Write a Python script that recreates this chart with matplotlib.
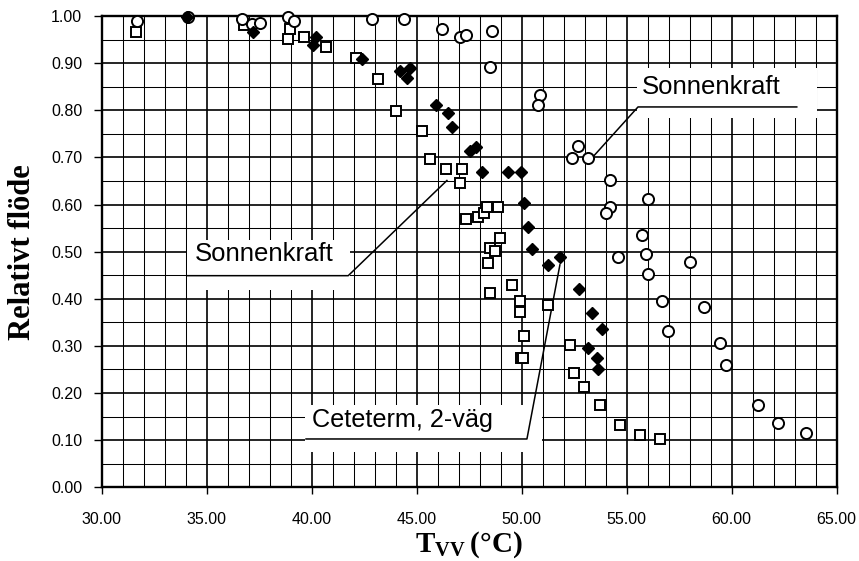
import matplotlib
matplotlib.use('Agg')
import matplotlib.pyplot as plt
from matplotlib.ticker import MultipleLocator, FormatStrFormatter
from matplotlib.patches import Rectangle

# ---- data ----
sq_x = [31.63, 36.78, 38.98, 38.86, 39.62, 40.68, 42.11, 43.17, 44.01, 45.25, 45.63,
        46.40, 47.17, 47.06, 47.35, 47.93, 48.22, 48.36, 48.89, 48.97, 48.49, 48.73,
        48.38, 49.55, 48.49, 49.92, 49.92, 51.27, 50.11, 49.98, 50.08, 52.30, 52.49,
        52.97, 53.73, 54.68, 55.63, 56.58]
sq_y = [0.965, 0.981, 0.972, 0.951, 0.956, 0.935, 0.910, 0.866, 0.798, 0.756, 0.697,
        0.675, 0.675, 0.646, 0.569, 0.573, 0.581, 0.595, 0.595, 0.528, 0.507, 0.502,
        0.475, 0.429, 0.413, 0.396, 0.371, 0.387, 0.320, 0.274, 0.274, 0.302, 0.243,
        0.213, 0.175, 0.132, 0.111, 0.102]

dia_x = [34.05, 37.22, 40.20, 40.08, 42.41, 44.20, 44.68, 44.55, 45.92, 46.51, 46.70,
         47.54, 47.82, 48.12, 49.35, 49.95, 50.11, 50.31, 50.50, 51.24, 51.82, 52.74,
         53.36, 53.84, 53.17, 53.57, 53.65]
dia_y = [0.998, 0.965, 0.956, 0.938, 0.908, 0.884, 0.889, 0.868, 0.811, 0.794, 0.765,
         0.714, 0.721, 0.670, 0.670, 0.670, 0.604, 0.552, 0.506, 0.472, 0.489, 0.420,
         0.370, 0.335, 0.295, 0.274, 0.250]

circ_x = [31.67, 34.12, 36.70, 37.14, 37.54, 38.89, 39.16, 42.86, 44.40, 46.22, 47.06,
          47.35, 48.57, 48.50, 50.87, 50.79, 52.70, 52.38, 53.17, 54.20, 54.20, 54.01,
          56.03, 55.74, 55.92, 54.59, 58.01, 56.03, 56.67, 58.68, 56.95, 59.44, 59.73,
          61.27, 62.19, 63.54]
circ_y = [0.990, 0.998, 0.994, 0.983, 0.986, 0.998, 0.990, 0.994, 0.994, 0.972, 0.955,
          0.960, 0.968, 0.891, 0.832, 0.811, 0.724, 0.699, 0.699, 0.651, 0.595, 0.583,
          0.612, 0.535, 0.496, 0.488, 0.477, 0.452, 0.395, 0.382, 0.332, 0.306, 0.259,
          0.175, 0.137, 0.116]

label_texts = ['Sonnenkraft', 'Sonnenkraft', 'Ceteterm, 2-väg']
x_title = r'$\mathbf{T}_{\mathbf{VV}}\,\mathbf{(°C)}$'
y_title = 'Relativt flöde'

# ---- styling ----
plt.rcParams['font.family'] = ['Liberation Sans', 'DejaVu Sans']
plt.rcParams['mathtext.fontset'] = 'custom'
plt.rcParams['mathtext.rm'] = 'Liberation Serif'
plt.rcParams['mathtext.bf'] = 'Liberation Serif:bold'

fig = plt.figure(figsize=(8.59, 5.61), dpi=100)
ax = fig.add_axes([0.1184, 0.1314, 0.8556, 0.8401])

ax.set_xlim(30, 65)
ax.set_ylim(0, 1.0)
ax.xaxis.set_major_locator(MultipleLocator(5))
ax.xaxis.set_minor_locator(MultipleLocator(1))
ax.yaxis.set_major_locator(MultipleLocator(0.1))
ax.yaxis.set_minor_locator(MultipleLocator(0.05))
ax.xaxis.set_major_formatter(FormatStrFormatter('%.2f'))
ax.yaxis.set_major_formatter(FormatStrFormatter('%.2f'))

ax.set_axisbelow(True)
ax.grid(which='major', color='black', linewidth=1.2)
ax.grid(which='minor', color='black', linewidth=0.75)
ax.tick_params(which='minor', length=0)
ax.tick_params(axis='y', which='major', length=6, width=1, pad=8, labelsize=11.5)
ax.tick_params(axis='x', which='major', length=5, width=1, pad=13, labelsize=11.5)
for s in ax.spines.values():
    s.set_linewidth(1.7)

# white label boxes covering the grid
boxes = [(55.49, 0.784, 64.06 - 55.49, 0.890 - 0.784),
         (34.05, 0.418, 41.82 - 34.05, 0.525 - 0.418),
         (39.69, 0.075, 50.97 - 39.69, 0.175 - 0.075)]
for (bx, by, bw, bh) in boxes:
    ax.add_patch(Rectangle((bx, by), bw, bh, facecolor='white', edgecolor='none', zorder=1))

# underline + leader lines
ax.plot([63.10, 55.54, 53.33], [0.807, 0.807, 0.698], color='black', lw=1.1, zorder=2)
ax.plot([34.08, 41.74, 46.44], [0.449, 0.449, 0.651], color='black', lw=1.1, zorder=2)
ax.plot([39.73, 50.25, 51.82], [0.1025, 0.1025, 0.472], color='black', lw=1.1, zorder=2)

ax.text(55.71, 0.850, label_texts[0], fontsize=18.5, va='center', ha='left', zorder=2)
ax.text(34.44, 0.495, label_texts[1], fontsize=18.5, va='center', ha='left', zorder=2)
ax.text(40.01, 0.142, label_texts[2], fontsize=18.2, va='center', ha='left', zorder=2)

# markers
ax.plot(sq_x, sq_y, linestyle='none', marker='s', ms=7.4, mfc='white', mec='black',
        mew=1.4, zorder=3, clip_on=False)
ax.plot(circ_x, circ_y, linestyle='none', marker='o', ms=8.0, mfc='white', mec='black',
        mew=1.4, zorder=4, clip_on=False)
ax.plot(dia_x, dia_y, linestyle='none', marker='D', ms=6.6, mfc='black', mec='black',
        mew=1.0, zorder=5, clip_on=False)

ax.set_ylabel(y_title, fontfamily='Liberation Serif', fontweight='bold', fontsize=22)
ax.yaxis.set_label_coords(-0.088, 0.5)
fig.text(469 / 859, 1 - 545 / 561, x_title, fontsize=21, ha='center', va='center')

fig.savefig('out.png', dpi=100)
